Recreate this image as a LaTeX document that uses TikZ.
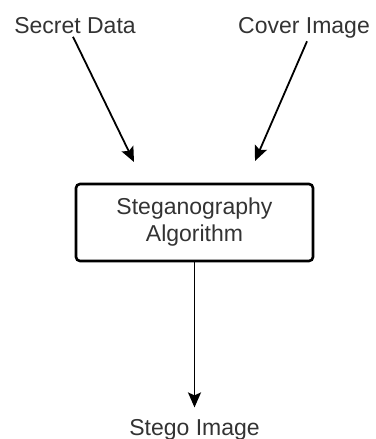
\documentclass[tikz,border=0pt]{standalone}
\usepackage{fontspec}
\setmainfont{Liberation Sans}
\usetikzlibrary{arrows.meta,positioning}
\definecolor{ink}{HTML}{000000}
\definecolor{label}{HTML}{333333}

\begin{document}
\begin{tikzpicture}[x=1pt,y=-1pt,
    flow/.style={draw=ink,line width=1.8pt,
      -{Stealth[length=15pt,width=13pt,inset=3pt]}},
    caption/.style={text=label,font=\fontsize{23}{27}\selectfont,anchor=base}]
  \useasboundingbox (0,0) rectangle (375,439);
  \node[caption] (secret) at (75,33) {Secret Data};
  \node[caption] (cover) at (304,33) {Cover Image};
  \node[draw=ink,line width=2.6pt,rounded corners=4pt,
    minimum width=237pt,minimum height=77pt,align=center,text=label,
    font=\fontsize{23}{27}\selectfont] (algo) at (194.5,222.5)
    {Steganography\\Algorithm};
  \node[caption] (stego) at (194.5,435) {Stego Image};
  \coordinate (secret-end) at (134,162);
  \coordinate (cover-end) at (255,161);
  \draw[flow] ([xshift=-2pt]secret.south) -- (secret-end);
  \draw[flow] ([xshift=3pt]cover.south) -- (cover-end);
  \draw[flow,shorten >=8pt] (algo) -- (stego);
\end{tikzpicture}
\end{document}
